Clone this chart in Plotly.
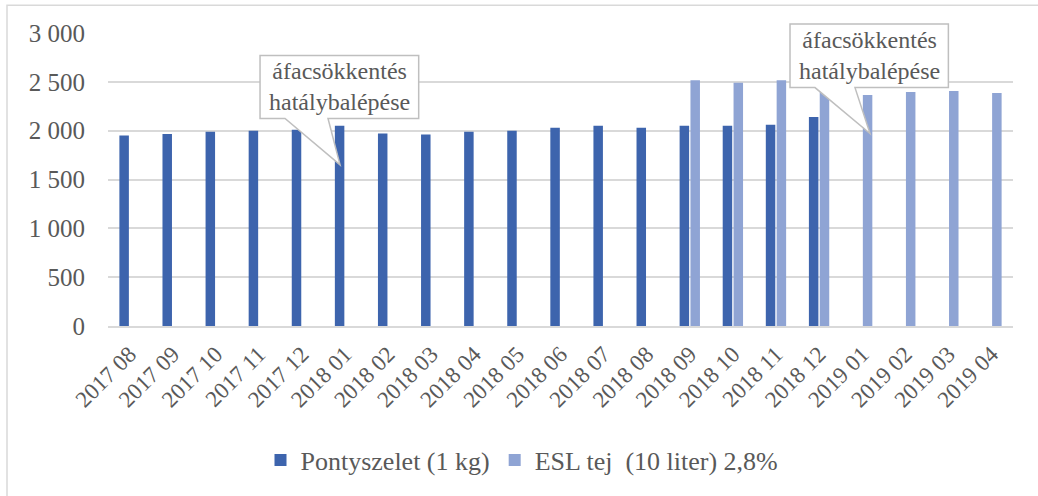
import plotly.graph_objects as go

categories = ["2017 08", "2017 09", "2017 10", "2017 11", "2017 12",
              "2018 01", "2018 02", "2018 03", "2018 04", "2018 05", "2018 06",
              "2018 07", "2018 08", "2018 09", "2018 10", "2018 11", "2018 12",
              "2019 01", "2019 02", "2019 03", "2019 04"]
pontyszelet = [1950, 1965, 1990, 2000, 2010, 2050, 1970, 1960, 1990, 2000, 2030,
               2050, 2030, 2050, 2050, 2060, 2140, None, None, None, None]
esl_tej = [None, None, None, None, None, None, None, None, None, None, None,
           None, None, 2515, 2490, 2515, 2420, 2365, 2395, 2405, 2385]
series_names = ["Pontyszelet (1 kg)", "ESL tej  (10 liter) 2,8%"]
callout_text = "áfacsökkentés<br>hatálybalépése"

FONT = "'Times New Roman', 'Liberation Serif', Tinos, serif"
GRAY = "#595959"

W, H = 1038, 496
ML, MR, MT, MB = 108, 25, 33, 168
PW, PH = W - ML - MR, H - MT - MB


def px(x):
    return (x - ML) / PW


def py(y):
    return (H - MB - y) / PH


fig = go.Figure()
fig.add_trace(go.Bar(x=categories, y=pontyszelet, name=series_names[0],
                     marker=dict(color="#3d64ad", line=dict(width=0))))
fig.add_trace(go.Bar(x=categories, y=esl_tej, name=series_names[1],
                     marker=dict(color="#8fa4d4", line=dict(width=0))))


def callout(box, base, tip):
    x0, y0, x1, y1 = box
    bl, br = base
    tx, ty = tip
    pts = [(x0, y0), (x1, y0), (x1, y1), (br, y1), (tx, ty), (bl, y1), (x0, y1)]
    path = "M " + " L ".join(f"{px(a):.4f},{py(b):.4f}" for a, b in pts) + " Z"
    fig.add_shape(type="path", path=path, xref="paper", yref="paper",
                  fillcolor="white", line=dict(color="#bfbfbf", width=1.5), layer="above")
    fig.add_annotation(x=px((x0 + x1) / 2), y=py((y0 + y1) / 2), xref="paper", yref="paper",
                       text=callout_text, showarrow=False, xanchor="center", yanchor="middle",
                       font=dict(family=FONT, size=24, color=GRAY))


callout((260, 55.7, 418.7, 119), (285, 328), (340, 165.7))
callout((790, 24, 948.4, 88), (815, 855), (870, 134.3))

# chart border
fig.add_shape(type="rect", xref="paper", yref="paper",
              x0=px(7), x1=px(1045), y0=py(500), y1=py(5),
              line=dict(color="#d9d9d9", width=1.5), fillcolor="rgba(0,0,0,0)", layer="below")

fig.update_layout(
    width=W, height=H,
    margin=dict(l=ML, r=MR, t=MT, b=MB),
    paper_bgcolor="white", plot_bgcolor="white",
    barmode="group", bargap=0.497, bargroupgap=0.124,
    separators=", ",
    font=dict(family=FONT, color=GRAY),
    showlegend=True,
    legend=dict(orientation="h", x=px(522), xanchor="center", y=py(463), yanchor="middle",
                font=dict(family=FONT, size=26, color=GRAY), traceorder="normal"),
    xaxis=dict(type="category", tickangle=-45, tickfont=dict(family=FONT, size=23, color=GRAY),
               showgrid=False, showline=True, linecolor="#d9d9d9", linewidth=1.5,
               ticks="", ticklen=0, automargin=False, ticklabelstandoff=4),
    yaxis=dict(range=[0, 3000], tickvals=[0, 500, 1000, 1500, 2000, 2500, 3000],
               tickformat=",d", tickfont=dict(family=FONT, size=25, color=GRAY),
               showgrid=True, gridcolor="#d9d9d9", gridwidth=1.5, zeroline=False,
               showline=False, ticks="", ticklabelstandoff=22, automargin=False),
)

fig.write_html("out.html", config={"displayModeBar": False},
               post_script="document.body.style.margin='0';document.body.style.overflow='hidden';")
